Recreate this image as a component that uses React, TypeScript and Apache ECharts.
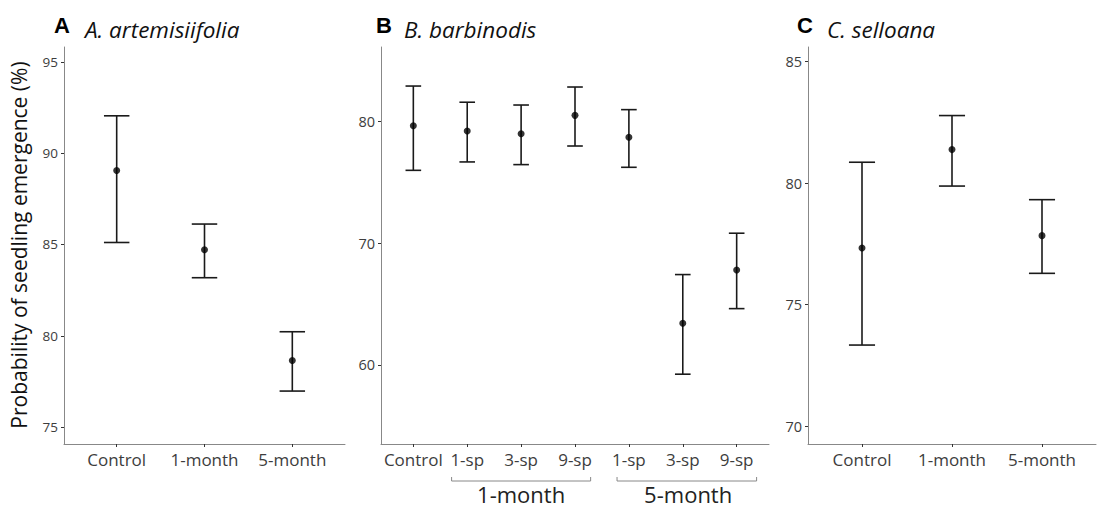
import React, { useEffect, useRef } from "react";
import * as echarts from "echarts";

// Panel A: A. artemisiifolia
const catsA = ["Control", "1-month", "5-month"];
const meanA = [89.05, 84.71, 78.64];
const lowA = [85.11, 83.18, 76.97];
const highA = [92.05, 86.12, 80.22];
const ticksA = [75, 80, 85, 90, 95];

// Panel B: B. barbinodis
const catsB = ["Control", "1-sp", "3-sp", "9-sp", "1-sp", "3-sp", "9-sp"];
const meanB = [79.67, 79.24, 79.01, 80.52, 78.72, 63.43, 67.81];
const lowB = [76.0, 76.69, 76.47, 78.0, 76.25, 59.24, 64.63];
const highB = [82.93, 81.6, 81.37, 82.85, 80.99, 67.43, 70.83];
const ticksB = [60, 70, 80];
const groupsB = ["1-month", "5-month"];
const groupSpanB = [
  [0.71, 3.29],
  [3.78, 6.37],
];
const groupLabelAtB = [2.0, 5.1];

// Panel C: C. selloana
const catsC = ["Control", "1-month", "5-month"];
const meanC = [77.33, 81.38, 77.84];
const lowC = [73.34, 79.88, 76.29];
const highC = [80.86, 82.78, 79.32];
const ticksC = [70, 75, 80, 85];

const FONT = "Open Sans";
const AXIS_COLOR = "#888";
const LABEL_COLOR = "#3d3d3d";
const BAR_COLOR = "#1a1a1a";

function errRender(params: any, api: any) {
  const x = api.value(0);
  const lo = api.value(1);
  const hi = api.value(2);
  const pLo = api.coord([x, lo]);
  const pHi = api.coord([x, hi]);
  const l = api.coord([x - 0.145, lo]);
  const r = api.coord([x + 0.145, lo]);
  const hw = (r[0] - l[0]) / 2;
  const st = { stroke: BAR_COLOR, lineWidth: 1.6 };
  return {
    type: "group",
    children: [
      { type: "line", shape: { x1: pLo[0], y1: pLo[1], x2: pHi[0], y2: pHi[1] }, style: st },
      { type: "line", shape: { x1: pLo[0] - hw, y1: pLo[1], x2: pLo[0] + hw, y2: pLo[1] }, style: st },
      { type: "line", shape: { x1: pHi[0] - hw, y1: pHi[1], x2: pHi[0] + hw, y2: pHi[1] }, style: st },
    ],
  };
}

function xAxisFor(idx: number, cats: string[]) {
  const vals = cats.map((_, i) => i);
  return {
    type: "value",
    gridIndex: idx,
    min: -0.6,
    max: cats.length - 1 + 0.6,
    splitLine: { show: false },
    axisLine: { show: true, onZero: false, lineStyle: { color: AXIS_COLOR, width: 1 } },
    axisTick: { show: true, length: 3, customValues: vals, lineStyle: { color: "#333", width: 1 } },
    axisLabel: {
      customValues: vals,
      margin: 7,
      fontFamily: FONT,
      fontSize: 17,
      color: LABEL_COLOR,
      formatter: (v: number) => cats[Math.round(v)],
    },
  };
}

function yAxisFor(idx: number, min: number, max: number, ticks: number[], fs: number) {
  return {
    type: "value",
    gridIndex: idx,
    min,
    max,
    splitLine: { show: false },
    axisLine: { show: true, onZero: false, lineStyle: { color: AXIS_COLOR, width: 1 } },
    axisTick: { show: true, length: 3, customValues: ticks, lineStyle: { color: "#333", width: 1 } },
    axisLabel: {
      customValues: ticks,
      margin: 6,
      fontFamily: FONT,
      fontSize: fs,
      color: LABEL_COLOR,
    },
  };
}

function seriesFor(idx: number, mean: number[], low: number[], high: number[]) {
  return [
    {
      type: "custom",
      xAxisIndex: idx,
      yAxisIndex: idx,
      clip: false,
      renderItem: errRender,
      data: mean.map((_, i) => [i, low[i], high[i]]),
    },
    {
      type: "scatter",
      xAxisIndex: idx,
      yAxisIndex: idx,
      symbol: "circle",
      symbolSize: 7,
      itemStyle: { color: "#000" },
      data: mean.map((m, i) => [i, m]),
      z: 5,
    },
  ];
}

export default function App() {
  const ref = useRef<HTMLDivElement>(null);
  useEffect(() => {
    document.body.style.margin = "0";
    const chart = echarts.init(ref.current!, null, { renderer: "svg" });
    const grids = [
      { left: 64, top: 47, width: 281, height: 397 },
      { left: 381, top: 47, width: 388, height: 397 },
      { left: 808, top: 47, width: 288, height: 397 },
    ];
    const titleText = (letter: string, lx: number, name: string, nx: number) => [
      {
        type: "text",
        x: lx,
        y: 25,
        style: {
          text: letter,
          fontFamily: "Liberation Sans",
          fontWeight: "bold",
          fontSize: 22,
          fill: "#000",
          align: "left",
          verticalAlign: "middle",
        },
      },
      {
        type: "text",
        x: nx,
        y: 29.5,
        style: {
          text: name,
          fontFamily: FONT,
          fontStyle: "italic",
          fontSize: 22.5,
          fill: "#111",
          align: "left",
          verticalAlign: "middle",
        },
      },
    ];
    chart.setOption({
      animation: false,
      grid: grids,
      xAxis: [xAxisFor(0, catsA), xAxisFor(1, catsB), xAxisFor(2, catsC)],
      yAxis: [
        yAxisFor(0, 74.07, 95.82, ticksA, 13.5),
        yAxisFor(1, 53.5, 86.14, ticksB, 14.5),
        yAxisFor(2, 69.27, 85.6, ticksC, 14.5),
      ],
      series: [
        ...seriesFor(0, meanA, lowA, highA),
        ...seriesFor(1, meanB, lowB, highB),
        ...seriesFor(2, meanC, lowC, highC),
      ],
    });

    const bracketY = 481;
    const bracketEls: any[] = [];
    groupsB.forEach((g, i) => {
      const x1 = chart.convertToPixel({ gridIndex: 1 }, [groupSpanB[i][0], 60])[0];
      const x2 = chart.convertToPixel({ gridIndex: 1 }, [groupSpanB[i][1], 60])[0];
      const xc = chart.convertToPixel({ gridIndex: 1 }, [groupLabelAtB[i], 60])[0];
      bracketEls.push({
        type: "polyline",
        shape: {
          points: [
            [x1, bracketY - 4],
            [x1, bracketY],
            [x2, bracketY],
            [x2, bracketY - 4],
          ],
        },
        style: { stroke: AXIS_COLOR, lineWidth: 1, fill: null },
      });
      bracketEls.push({
        type: "text",
        x: xc,
        y: 494,
        style: {
          text: g,
          fontFamily: FONT,
          fontSize: 22,
          lineHeight: 22,
          fill: "#222",
          align: "center",
          verticalAlign: "middle",
        },
      });
    });

    chart.setOption({
      graphic: [
        ...titleText("A", 54, "A. artemisiifolia", 85),
        ...titleText("B", 376, "B. barbinodis", 404),
        ...titleText("C", 797, "C. selloana", 827),
        {
          type: "text",
          x: 19,
          y: 245,
          rotation: Math.PI / 2,
          style: {
            text: "Probability of seedling emergence (%)",
            fontFamily: FONT,
            fontSize: 21,
            fill: "#111",
            align: "center",
            verticalAlign: "middle",
          },
        },
        ...bracketEls,
      ],
    });
    return () => chart.dispose();
  }, []);
  return <div ref={ref} style={{ width: 1097, height: 508 }} />;
}
